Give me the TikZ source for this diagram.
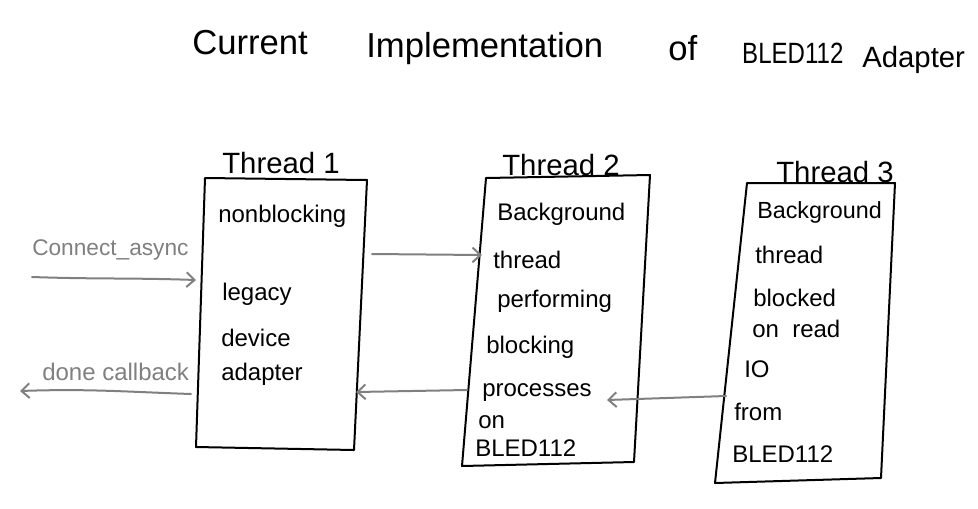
\documentclass[tikz,border=0pt]{standalone}
\usepackage{fontspec}
\setmainfont{Liberation Sans}
\usetikzlibrary{arrows.meta,calc}
\definecolor{arrgray}{HTML}{808080}
\tikzset{
  boxline/.style={draw=black,line width=1.5pt,line join=round},
  conn/.style={draw=arrgray,line width=1.5pt,line cap=round,-{Straight Barb[length=6pt,width=11pt,line width=1.5pt]}},
  ttl/.style={anchor=base west,inner sep=0pt,font=\fontsize{26}{28}\selectfont},
  thr/.style={anchor=base west,inner sep=0pt,font=\fontsize{22}{24}\selectfont},
  txt/.style={anchor=base west,inner sep=0pt,font=\fontsize{18}{20}\selectfont},
  lbl/.style={anchor=base west,inner sep=0pt,text=arrgray,font=\fontsize{17}{19}\selectfont}
}
\begin{document}
\begin{tikzpicture}[x=0.75pt,y=-0.75pt]
\useasboundingbox (0,0) rectangle (978,508);
\fill[white] (0,0) rectangle (978,508);
% title
\node[ttl] (t1) at (192,54) {Current};
\node[ttl] (t2) at (366,57) {Implementation};
\node[ttl] (t3) at (668,60) {of};
\node[ttl,font=\fontsize{22}{24}\selectfont,xscale=0.82] (t4) at (742,63) {BLED112};
\node[ttl,font=\fontsize{22}{24}\selectfont] (t5) at (862,67) {Adapter};
% boxes
\coordinate (b1tl) at (205,178); \coordinate (b1tr) at (367,180);
\coordinate (b1br) at (354,450); \coordinate (b1bl) at (196,447);
\coordinate (b2tl) at (486,178); \coordinate (b2tr) at (650,175);
\coordinate (b2br) at (634,462); \coordinate (b2bl) at (462,466);
\coordinate (b3tl) at (747,183); \coordinate (b3tr) at (895,183);
\coordinate (b3br) at (881,478); \coordinate (b3bl) at (715,483);
\draw[boxline] (b1tl) -- (b1tr) -- (b1br) -- (b1bl) -- cycle;
\draw[boxline] (b2tl) -- (b2tr) -- (b2br) -- (b2bl) -- cycle;
\draw[boxline] (b3tl) -- (b3tr) -- (b3br) -- (b3bl) -- cycle;
% thread labels
\node[thr] (h1) at (222,173) {Thread 1};
\node[thr] (h2) at (502,175) {Thread 2};
\node[thr] (h3) at (776,182) {Thread 3};
% box 1 text
\node[txt] (p1) at (218,222) {nonblocking};
\node[txt] (p2) at (222,300) {legacy};
\node[txt] (p3) at (221,346) {device};
\node[txt] (p4) at (221,380) {adapter};
% box 2 text
\node[txt] (q1) at (497,220) {Background};
\node[txt] (q2) at (493,268) {thread};
\node[txt] (q3) at (497,307) {performing};
\node[txt] (q4) at (486,353) {blocking};
\node[txt] (q5) at (482,396) {processes};
\node[txt] (q6) at (478,428) {on};
\node[txt] (q7) at (475,456) {BLED112};
% box 3 text
\node[txt,font=\fontsize{17.5}{20}\selectfont] (r1) at (757,218) {Background};
\node[txt] (r2) at (755,263) {thread};
\node[txt] (r3) at (753,306) {blocked};
\node[txt] (r4) at (752,337) {on\ \ read};
\node[txt] (r5) at (744,377) {IO};
\node[txt] (r6) at (734,420) {from};
\node[txt] (r7) at (732,462) {BLED112};
% arrow labels
\node[lbl] (l1) at (32,255) {Connect\_async};
\node[lbl,font=\fontsize{18}{20}\selectfont] (l2) at (42,380) {done callback};
% connector end points
\coordinate (c1s) at (32,277); \coordinate (c1e) at (196,280);
\coordinate (c2s) at (191,394); \coordinate (c2e) at (20,391);
\coordinate (c3s) at (372,254); \coordinate (c3e) at (482,255);
\coordinate (c4s) at (467,390); \coordinate (c4e) at (356,392);
\coordinate (c5s) at (726,396); \coordinate (c5e) at (607,400);
\draw[conn] (c1s) to[out=-2,in=178] (c1e);
\draw[conn] (c2s) to[out=178,in=2] (c2e);
\draw[conn] (c3s) -- (c3e);
\draw[conn] (c4s) -- (c4e);
\draw[conn] (c5s) -- (c5e);
\end{tikzpicture}
\end{document}
